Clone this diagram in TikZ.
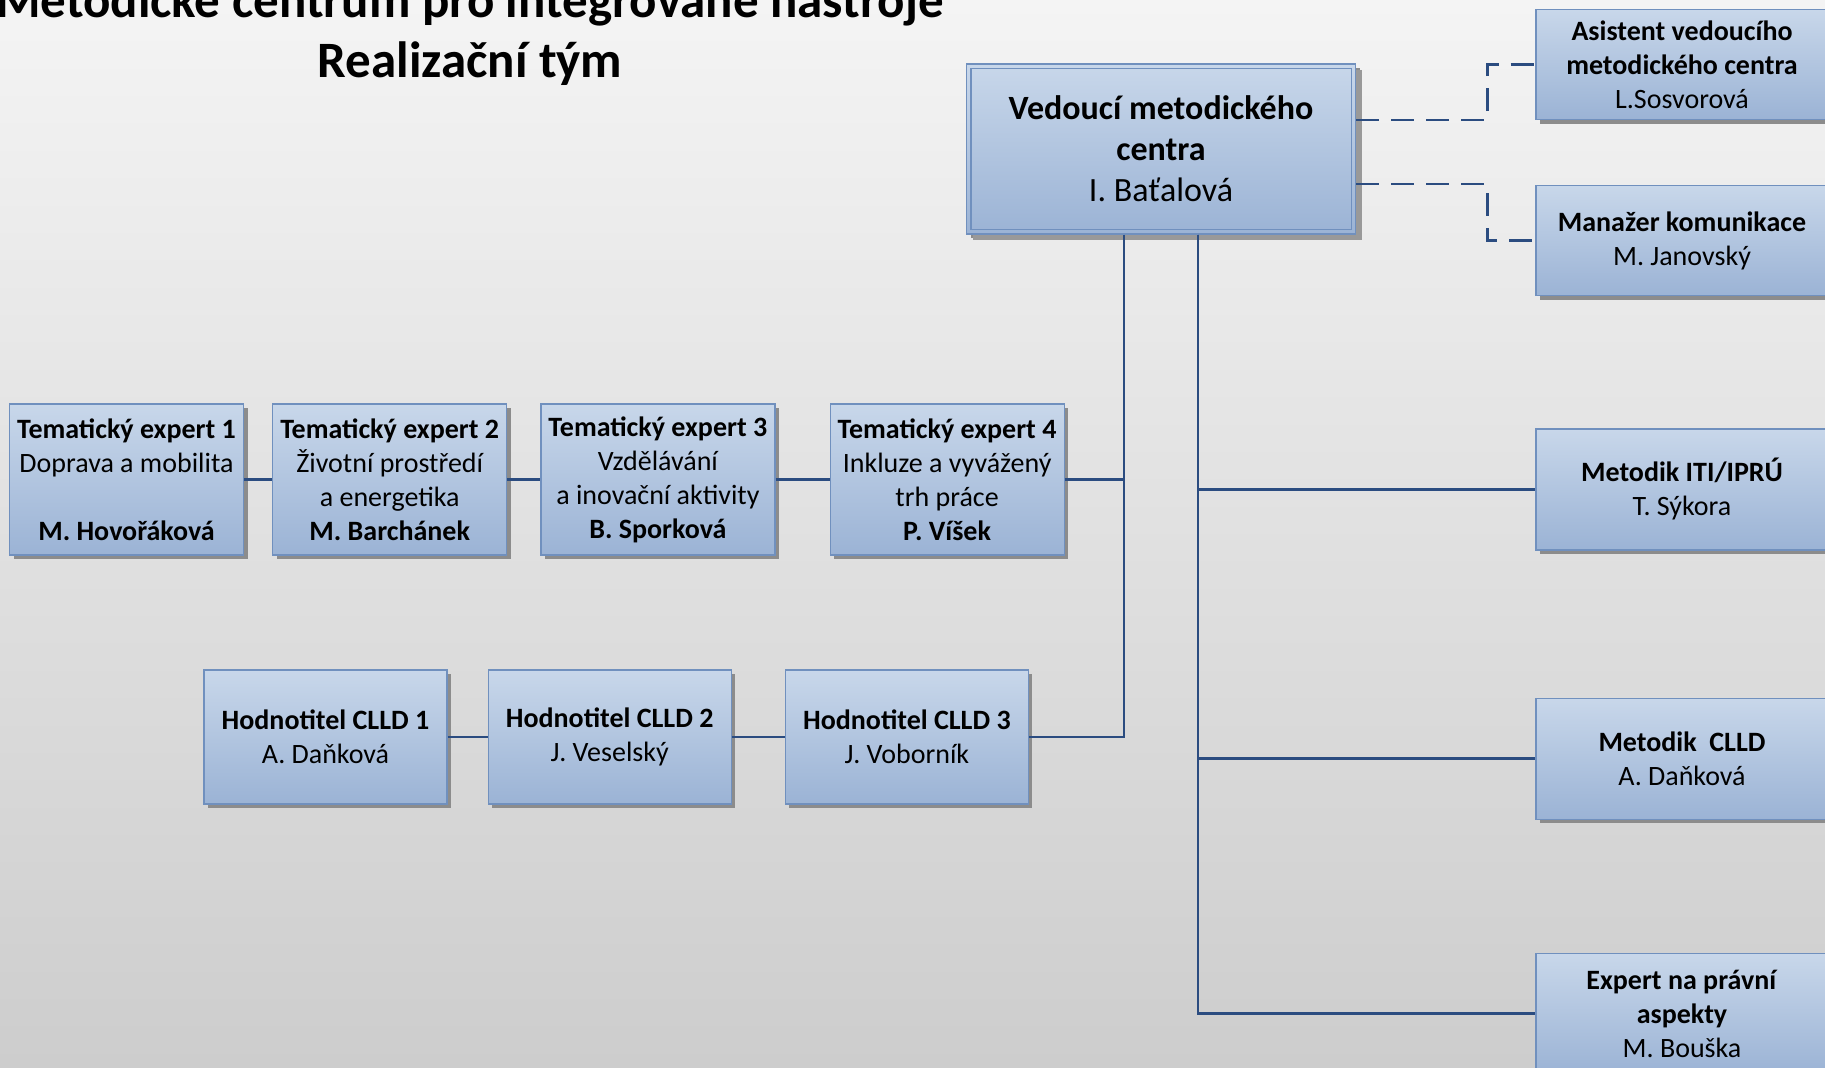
\documentclass[tikz,border=0pt]{standalone}
\usepackage{fontspec}
\setmainfont{Carlito}
\usetikzlibrary{positioning,shadows}

\definecolor{boxtop}{HTML}{C8D7EA}
\definecolor{boxbot}{HTML}{9BB3D5}
\definecolor{boxline}{HTML}{7090BE}
\definecolor{wire}{HTML}{2B4C80}
\definecolor{bgtop}{HTML}{F4F4F4}
\definecolor{bgbot}{HTML}{CDCDCD}

\tikzset{
  member/.style={draw=boxline, line width=0.6pt,
    top color=boxtop, bottom color=boxbot,
    align=center, inner xsep=0pt, inner ysep=2pt,
    font=\fontsize{14}{17}\selectfont,
    drop shadow={shadow xshift=2pt, shadow yshift=-2pt, fill=black!45, opacity=1}},
  lead/.style={member, minimum width=194.5pt, minimum height=85pt,
    font=\fontsize{17}{20.5}\selectfont,
    drop shadow={shadow xshift=3pt, shadow yshift=-3pt, fill=black!40, opacity=1}},
  aside/.style={member, minimum width=146pt, minimum height=55pt},
  tall/.style={minimum height=60.5pt},
  expert/.style={member, minimum width=117pt, minimum height=75.5pt},
  rater/.style={member, minimum width=121.5pt, minimum height=67pt},
  link/.style={draw=wire, line width=1.4pt},
  dashlink/.style={draw=wire, line width=1.4pt, dash pattern=on 11.5pt off 6pt},
  heading/.style={font=\fontsize{25.5}{30}\selectfont\bfseries, inner sep=0pt}
}

\begin{document}
\begin{tikzpicture}[x=0.5pt, y=-0.5pt]
  \path[use as bounding box] (0,0) rectangle (1825,1067);
  \clip (0,0) rectangle (1825,1067);
  \shade[top color=bgtop, bottom color=bgbot] (0,0) rectangle (1825,1067);

  % title
  \node[heading, anchor=base] (title) at (470,17) {Metodické centrum pro integrované nástroje};
  \node[heading, anchor=base] (subtitle) at (470,77) {Realizační tým};

  % head of the centre
  \node[lead] (lead) at (1161,149)
    {\textbf{Vedoucí metodického}\\\textbf{centra}\\I. Baťalová};
  \draw[boxline, line width=0.6pt]
    ([shift={(2.5pt,-2.5pt)}]lead.north west) rectangle ([shift={(-2.5pt,2.5pt)}]lead.south east);

  % right column
  \node[aside] (asst) at (1682,64.5)
    {\textbf{Asistent vedoucího}\\\textbf{metodického centra}\\L.Sosvorová};
  \node[aside, below=32.5pt of asst] (comm)
    {\textbf{Manažer komunikace}\\M. Janovský};
  \node[aside, tall, below=66pt of comm] (iti)
    {\textbf{Metodik ITI/IPRÚ}\\T. Sýkora};
  \node[aside, tall, below=73.5pt of iti] (clld)
    {\textbf{Metodik\ \ CLLD}\\A. Daňková};
  \node[aside, tall, below=66.5pt of clld] (law)
    {\textbf{Expert na právní}\\\textbf{aspekty}\\M. Bouška};

  % thematic experts
  \node[expert] (te1) at (126.5,479.5)
    {\textbf{Tematický expert 1}\\Doprava a mobilita\\\mbox{}\\\textbf{M. Hovořáková}};
  \node[expert, right=14pt of te1] (te2)
    {\textbf{Tematický expert 2}\\Životní prostředí\\a energetika\\\textbf{M. Barchánek}};
  \node[expert, right=16.5pt of te2] (te3)
    {\textbf{Tematický expert 3}\\Vzdělávání\\a inovační aktivity\\\textbf{B. Sporková}};
  \node[expert, right=27pt of te3] (te4)
    {\textbf{Tematický expert 4}\\Inkluze a vyvážený\\trh práce\\\textbf{P. Víšek}};

  % CLLD raters
  \node[rater] (h1) at (325.5,737) {\textbf{Hodnotitel CLLD 1}\\A. Daňková};
  \node[rater, right=20pt of h1] (h2) {\textbf{Hodnotitel CLLD 2}\\J. Veselský};
  \node[rater, right=26.5pt of h2] (h3) {\textbf{Hodnotitel CLLD 3}\\J. Voborník};

  % connections
  \draw[link] (te1) -- (te2) -- (te3) -- (te4);
  \draw[link] (h1) -- (h2) -- (h3);
  \draw[link] ([xshift=-18.5pt]lead.south) |- (h3.east);
  \draw[link] (te4.east) -| ([xshift=-18.5pt]lead.south);
  \draw[link] ([xshift=18.5pt]lead.south) |- (law.west);
  \draw[link] ([xshift=18.5pt]lead.south) |- (iti.west);
  \draw[link] ([xshift=18.5pt]lead.south) |- (clld.west);
  \draw[dashlink] ([yshift=14.5pt]lead.east) -- +(65.5pt,0) |- (asst.west);
  \draw[dashlink] ([yshift=-17.5pt]lead.east) -- +(65.5pt,0) |- (comm.west);
\end{tikzpicture}
\end{document}
